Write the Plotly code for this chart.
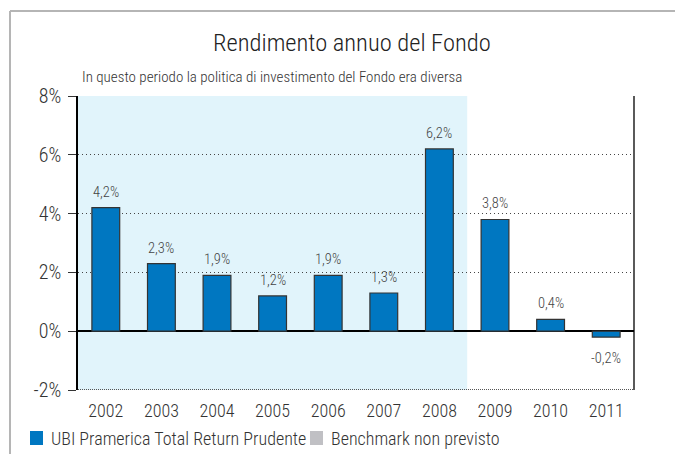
import plotly.graph_objects as go

years = ["2002", "2003", "2004", "2005", "2006", "2007", "2008", "2009", "2010", "2011"]
fund = [4.2, 2.3, 1.9, 1.2, 1.9, 1.3, 6.2, 3.8, 0.4, -0.2]
benchmark = [None] * len(years)
ytick_vals = [-2, 0, 2, 4, 6, 8]
ytick_text = ["-2%", "0%", "2%", "4%", "6%", "8%"]
fund_name = "UBI Pramerica Total Return Prudente"
bench_name = "Benchmark non previsto"
shaded_until = "2008"

FONT = "Roboto Condensed, Liberation Sans Narrow, DejaVu Sans Condensed, sans-serif"
WT = 300
BLUE = "#0077c1"
GREY = "#c0c0c4"
# figure drawn at 675x446 (page body adds an 8px margin)
W, H = 675, 446
L, R, T, B = 70, 49, 88, 64
PW, PH = W - L - R, H - T - B


def px(x):
    return (x - L) / PW


def py(y):
    return 1 - (y - T) / PH


labels = [f"{v:.1f}".replace(".", ",") + "%" for v in fund]

fig = go.Figure()
fig.add_trace(go.Bar(
    x=years, y=fund, name=fund_name,
    marker=dict(color=BLUE, line=dict(color="#333333", width=1.2)),
    width=0.5, showlegend=False, cliponaxis=False,
))
fig.add_trace(go.Bar(
    x=years, y=benchmark, name=bench_name,
    marker=dict(color=GREY), showlegend=False,
))

shade_end = years.index(shaded_until) + 0.5
shapes = [
    dict(type="rect", xref="x", yref="y", x0=-0.5, x1=shade_end, y0=-2, y1=8,
         fillcolor="#e1f4fb", line=dict(width=0), layer="below"),
    dict(type="line", xref="paper", yref="paper", x0=1, x1=1, y0=0, y1=1,
         line=dict(color="#000000", width=1.3)),
    dict(type="line", xref="paper", yref="y", x0=0, x1=1, y0=-2, y1=-2,
         line=dict(color="#555555", width=2, dash="1px,1px")),
    # outer frame
    dict(type="line", xref="paper", yref="paper", x0=px(2), x1=px(W + 5), y0=py(3), y1=py(3),
         line=dict(color="#b5b5b5", width=2)),
    dict(type="line", xref="paper", yref="paper", x0=px(2), x1=px(2), y0=py(3), y1=py(H + 5),
         line=dict(color="#b5b5b5", width=2)),
    # legend squares
    dict(type="rect", xref="paper", yref="paper", x0=px(22), x1=px(35), y0=py(423), y1=py(437),
         fillcolor=BLUE, line=dict(width=0)),
    dict(type="rect", xref="paper", yref="paper", x0=px(302), x1=px(315), y0=py(423), y1=py(437),
         fillcolor=GREY, line=dict(width=0)),
]

annotations = [
    dict(text="Rendimento annuo del Fondo", xref="paper", yref="paper",
         x=px(343.5), y=py(34), xanchor="center", yanchor="middle", showarrow=False,
         font=dict(family=FONT, size=24.5, color="#222222", weight=WT)),
    dict(text="In questo periodo la politica di investimento del Fondo era diversa",
         xref="paper", yref="paper", x=px(72), y=py(69), xanchor="left", yanchor="middle",
         showarrow=False, font=dict(family=FONT, size=15, color="#333333", weight=WT)),
    dict(text=fund_name, xref="paper", yref="paper", x=px(41), y=py(430),
         xanchor="left", yanchor="middle", showarrow=False,
         font=dict(family=FONT, size=18, color="#333333", weight=WT)),
    dict(text=bench_name, xref="paper", yref="paper", x=px(321), y=py(430),
         xanchor="left", yanchor="middle", showarrow=False,
         font=dict(family=FONT, size=18, color="#333333", weight=WT)),
]
# value labels anchored to each bar's value
for i, (v, t) in enumerate(zip(fund, labels)):
    annotations.append(dict(text=t, x=i, y=v, xref="x", yref="y",
                            xanchor="center", yanchor="bottom" if v >= 0 else "top",
                            yshift=5 if v >= 0 else -11, showarrow=False,
                            font=dict(family=FONT, size=14.5, color="#444444", weight=WT)))

fig.update_layout(
    width=W, height=H,
    margin=dict(l=L, r=R, t=T, b=B, autoexpand=False),
    paper_bgcolor="white", plot_bgcolor="white",
    barmode="overlay",
    showlegend=False,
    shapes=shapes,
    annotations=annotations,
    font=dict(family=FONT, color="#333333", weight=WT),
)
fig.update_xaxes(
    type="category", showgrid=False, ticks="", showline=False,
    tickfont=dict(family=FONT, size=18, color="#333333", weight=WT),
    ticklabelstandoff=8,
    range=[-0.5, len(years) - 0.5],
)
fig.update_yaxes(
    range=[-2, 8], tickvals=ytick_vals, ticktext=ytick_text,
    showgrid=True, gridcolor="#444444", griddash="1px,3px", gridwidth=1,
    zeroline=True, zerolinecolor="#000000", zerolinewidth=1.5,
    showline=True, linecolor="#000000", linewidth=1.5,
    ticks="outside", ticklen=8, tickcolor="#333333",
    ticklabelstandoff=3,
    tickfont=dict(family=FONT, size=20, color="#333333", weight=WT),
)

fig.write_html("out.html")
